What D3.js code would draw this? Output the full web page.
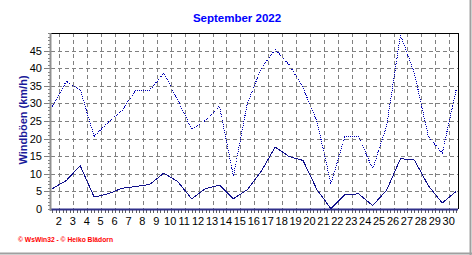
<!DOCTYPE html>
<html><head><meta charset="utf-8">
<script src="https://cdn.jsdelivr.net/npm/d3@7"></script>
<style>
html,body{margin:0;padding:0;background:#fff;}
svg{display:block;}
text{font-family:"Liberation Sans",Arial,sans-serif;}
</style></head>
<body>
<svg id="c" width="472" height="255"></svg>
<script>
const title = "September 2022";
const yTitle = "Windböen (km/h)";
const footer = "© WsWin32  -  © Heiko Blädorn";
const days = d3.range(1, 31);
const gust = [29.1, 36.3, 33.9, 20.6, 24.6, 28.0, 33.8, 33.8, 38.6, 31.0, 22.7, 25.2, 29.2, 9.3, 30.0, 40.0, 45.3, 41.0, 34.4, 24.9, 7.2, 20.5, 20.5, 11.4, 23.5, 49.5, 38.6, 20.6, 15.9, 33.9];
const wind = [5.8, 8.1, 12.3, 3.4, 4.3, 5.9, 6.4, 7.0, 10.2, 7.8, 2.9, 5.8, 6.8, 2.9, 5.5, 10.7, 17.6, 14.9, 13.8, 5.5, 0.1, 4.1, 4.3, 1.0, 5.3, 14.3, 13.9, 6.6, 1.7, 5.0];
const xTickDays = d3.range(2, 31);
const yTicks = [0, 5, 10, 15, 20, 25, 30, 35, 40, 45];

const svg = d3.select("#c");
const L = 51, R = 458, T = 33, B = 209;
const x = d3.scaleLinear().domain([1.4, 30.63]).range([L, R]);
const y = d3.scaleLinear().domain([0, 50]).range([B, T]);

// outer frame shadow
svg.append("line").attr("x1", 470.5).attr("x2", 470.5).attr("y1", 0).attr("y2", 255).attr("stroke", "#a0a0a0").attr("stroke-width", 2);
svg.append("line").attr("x1", 0).attr("x2", 472).attr("y1", 253.5).attr("y2", 253.5).attr("stroke", "#a0a0a0").attr("stroke-width", 2);

// grid
const grid = svg.append("g").attr("stroke", "#808080").attr("stroke-dasharray", "4,3").attr("shape-rendering", "crispEdges");
grid.selectAll("line.v").data(xTickDays).join("line")
  .attr("x1", d => Math.round(x(d)) + 0.5).attr("x2", d => Math.round(x(d)) + 0.5)
  .attr("y1", T).attr("y2", B);
grid.selectAll("line.h").data(yTicks.filter(v => v > 0)).join("line")
  .attr("x1", L - 7).attr("x2", R)
  .attr("y1", d => Math.round(y(d)) + 0.5).attr("y2", d => Math.round(y(d)) + 0.5);

// frame top/right
svg.append("path").attr("d", `M${L},${T + 0.5}H${R + 0.5}V${B}`).attr("fill", "none").attr("stroke", "#000").attr("shape-rendering", "crispEdges");

// x axis (bottom) with minor ticks
const xAxis = d3.axisBottom(x).tickValues(d3.range(1.5, 30.75, 0.25)).tickSize(3).tickFormat("");
const gx = svg.append("g").attr("transform", `translate(0,${B + 1})`).call(xAxis);
gx.select(".domain").remove();
gx.selectAll(".tick line").attr("stroke", "#606060").attr("shape-rendering", "crispEdges");
svg.append("line").attr("x1", L).attr("x2", R).attr("y1", B + 0.5).attr("y2", B + 0.5)
  .attr("stroke", "#30308a").attr("stroke-width", 2);

// x labels
const xl = d3.axisBottom(x).tickValues(xTickDays).tickSize(0).tickPadding(0).tickFormat(d3.format("d"));
const gxl = svg.append("g").attr("transform", `translate(-1,${B + 8})`).call(xl);
gxl.select(".domain").remove();
gxl.selectAll("text").attr("font-size", 11).attr("fill", "#000").attr("font-family", "Liberation Sans, Arial, sans-serif").attr("dy", "0.71em");

// y axis
const yAxis = d3.axisLeft(y).tickValues(d3.range(0, 51, 1)).tickSize(2).tickFormat("");
const gy = svg.append("g").attr("transform", `translate(${L - 1},0)`).call(yAxis);
gy.select(".domain").remove();
gy.selectAll(".tick line").attr("stroke", "#808080").attr("shape-rendering", "crispEdges");
svg.append("line").attr("x1", L - 0.5).attr("x2", L - 0.5).attr("y1", T).attr("y2", B + 2)
  .attr("stroke", "#909090").attr("stroke-width", 2);

const yl = d3.axisLeft(y).tickValues(yTicks).tickSize(0).tickPadding(0).tickFormat(d3.format("d"));
const gyl = svg.append("g").attr("transform", `translate(42,0)`).call(yl);
gyl.select(".domain").remove();
gyl.selectAll("text").attr("font-size", 11).attr("fill", "#000").attr("font-family", "Liberation Sans, Arial, sans-serif");

// lines
const line = d3.line().x((d, i) => x(days[i] + 0.5)).y(d => y(d));
svg.append("path").datum(gust).attr("d", line).attr("fill", "none")
  .attr("stroke", "#0000b4").attr("stroke-width", 1).attr("stroke-dasharray", "1,1")
  .attr("shape-rendering", "crispEdges");
svg.append("path").datum(wind).attr("d", line).attr("fill", "none")
  .attr("stroke", "#10108c").attr("stroke-width", 1).attr("shape-rendering", "crispEdges");

// titles
svg.append("text").attr("x", 237).attr("y", 22).attr("text-anchor", "middle")
  .attr("font-size", 11.5).attr("font-weight", "bold").attr("fill", "#0000ff").text(title);
svg.append("text").attr("transform", "translate(27,120) rotate(-90)").attr("text-anchor", "middle")
  .attr("font-size", 11).attr("font-weight", "bold").attr("fill", "#1a1a9a").attr("xml:space", "preserve").text(yTitle);
svg.append("text").attr("x", 18).attr("y", 242).attr("font-size", 7).attr("font-weight", "bold")
  .attr("fill", "#ff0000").attr("textLength", 95).attr("lengthAdjust", "spacingAndGlyphs").text(footer);
</script>
</body></html>
